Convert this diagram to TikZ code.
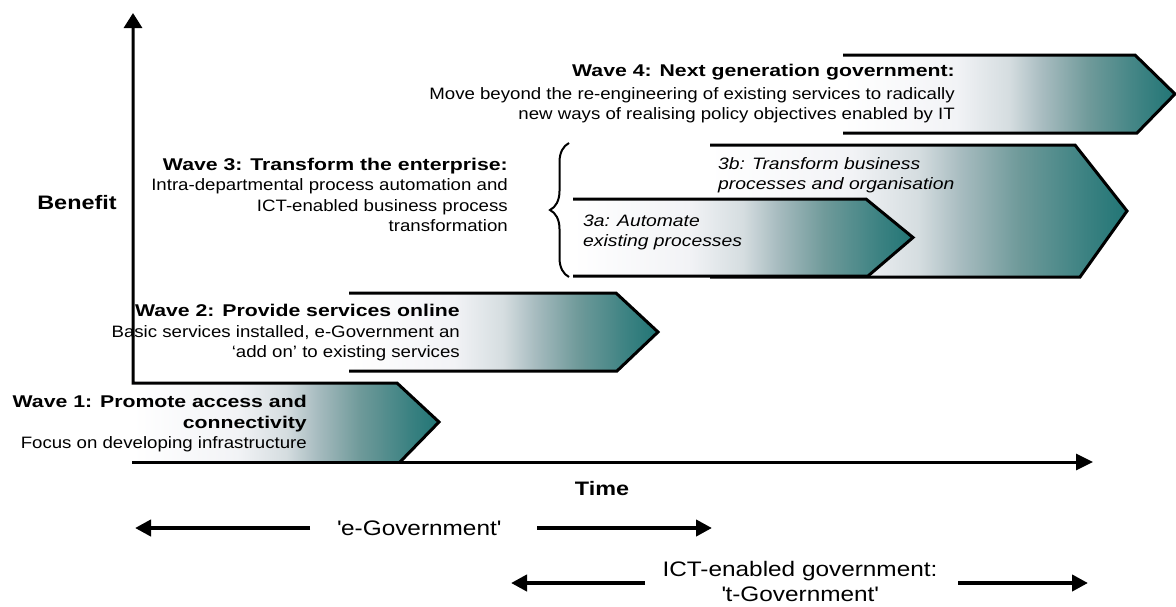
\documentclass[tikz,border=0pt]{standalone}
\usepackage{fontspec}
\setmainfont{Liberation Sans}
\newfontfamily\rgf[FakeStretch=1.13]{Liberation Sans}
\newfontfamily\ttf[FakeStretch=1.25]{Liberation Sans}
\newfontfamily\bigf[FakeStretch=1.2]{Liberation Sans}
\newfontfamily\labf[FakeStretch=1.16]{Liberation Sans}
\newfontfamily\itf[FakeStretch=1.17]{Liberation Sans}
\usetikzlibrary{arrows.meta,decorations.pathreplacing}
\definecolor{wA}{RGB}{242,243,246}
\definecolor{wB}{RGB}{213,221,224}
\definecolor{wC}{RGB}{168,188,192}
\definecolor{wD}{RGB}{111,154,154}
\definecolor{wE}{RGB}{60,130,130}
\definecolor{wF}{RGB}{33,117,117}
\pgfdeclarehorizontalshading{waveshade}{100bp}{color(0bp)=(white); color(25bp)=(white); color(42bp)=(wA); color(50bp)=(wB); color(55bp)=(wC); color(62bp)=(wD); color(70bp)=(wE); color(75bp)=(wF); color(100bp)=(wF)}
\newcommand\drawwave[7]{%
  \fill[shading=waveshade] (#1,#2) -- (#3,#2) -- (#4,{(#2+#5)/2}) -- (#6,#5) -- (#1,#5) -- cycle;
  \draw[border] (#1,#2) coordinate (#7-lt) -- (#3,#2) -- (#4,{(#2+#5)/2}) coordinate (#7-tip) -- (#6,#5) -- (#1,#5) coordinate (#7-lb);
}
\tikzset{
  border/.style={line width=3pt, line join=miter},
  axisarrow/.style={line width=3pt, -{Triangle[length=17pt,width=16pt]}},
  spanarrow/.style={line width=4pt, -{Triangle[length=16pt,width=16pt]}},
  txt/.style={inner sep=0pt, font=\rgf\fontsize{16.5}{20.5}\selectfont},
  itx/.style={inner sep=0pt, align=left, font=\itf\itshape\fontsize{16.5}{20}\selectfont},
  bigl/.style={inner sep=0pt, font=\bigf\bfseries\fontsize{19.5}{22}\selectfont},
  lab/.style={inner sep=0pt, align=center, font=\labf\fontsize{21}{25}\selectfont},
}
\newcommand\tl[1]{{\ttf\bfseries\fontsize{17}{20}\selectfont #1}}
\begin{document}
\begin{tikzpicture}[x=1pt,y=-1pt]
\useasboundingbox (0,0) rectangle (1176,606);
% waves
\drawwave{843}{55}{1135}{1175}{133}{1137}{w4}
\drawwave{710}{145}{1075}{1127}{277}{1080}{w3b}
\drawwave{573}{199}{866}{913}{276}{868}{w3a}
\drawwave{349}{293}{616}{658}{371}{617}{w2}
% wave 1 with axis corner
\fill[shading=waveshade] (133,383) -- (397,383) -- (439,422) -- (400,462) -- (133,462) -- cycle;
\coordinate (ytip) at (133,13);
\coordinate (corner) at (133,383);
\coordinate (w1d) at (397,383);
\coordinate (w1tip) at (439,422);
\coordinate (w1br) at (400,462);
\draw[border, {Triangle[length=15pt,width=18pt]}-] (ytip) -- (corner) -- (w1d) -- (w1tip) -- (w1br);
\coordinate (xstart) at (132,462);
\coordinate (xend) at (1093,462);
\draw[axisarrow] (xstart) -- (xend);
% brace
\coordinate (brb) at (569,277);
\coordinate (brt) at (569,143);
\draw[line width=2pt, decorate, decoration={brace, amplitude=19pt}] (brb) -- (brt);
% texts
\node[bigl] (benefit) at (77,203) {Benefit};
\node[bigl] (time) at (602,489) {Time};
\node[txt, anchor=east, align=right] (t4) at (955,94) {\tl{Wave 4: Next generation government:}\\[2pt]Move beyond the re-engineering of existing services to radically\\new ways of realising policy objectives enabled by IT};
\node[txt, anchor=east, align=right] (t3) at (508,195) {\tl{Wave 3: Transform the enterprise:}\\Intra-departmental process automation and\\ICT-enabled business process\\transformation};
\node[txt, anchor=east, align=right] (t2) at (460,333) {\tl{Wave 2: Provide services online}\\Basic services installed, e-Government an\\‘add on’ to existing services};
\node[txt, anchor=east, align=right] (t1) at (307,424) {\tl{Wave 1: Promote access and}\\\tl{connectivity}\\Focus on developing infrastructure};
\node[itx, anchor=west] (t3b) at (718,175) {3b: Transform business\\processes and organisation};
\node[itx, anchor=west] (t3a) at (583,232) {3a: Automate\\existing processes};
% bottom spans
\node[lab] (egov) at (419,528) {\textquotesingle e-Government\textquotesingle};
\coordinate (egLt) at (310,528);
\coordinate (egLh) at (135,528);
\coordinate (egRt) at (537,528);
\coordinate (egRh) at (712,528);
\draw[spanarrow] (egLt) -- (egLh);
\draw[spanarrow] (egRt) -- (egRh);
\node[lab] (tgov) at (800,581) {ICT-enabled government:\\\textquotesingle t-Government\textquotesingle};
\coordinate (tgLt) at (645,583);
\coordinate (tgLh) at (511,583);
\coordinate (tgRt) at (958,583);
\coordinate (tgRh) at (1088,583);
\draw[spanarrow] (tgLt) -- (tgLh);
\draw[spanarrow] (tgRt) -- (tgRh);
\end{tikzpicture}
\end{document}
